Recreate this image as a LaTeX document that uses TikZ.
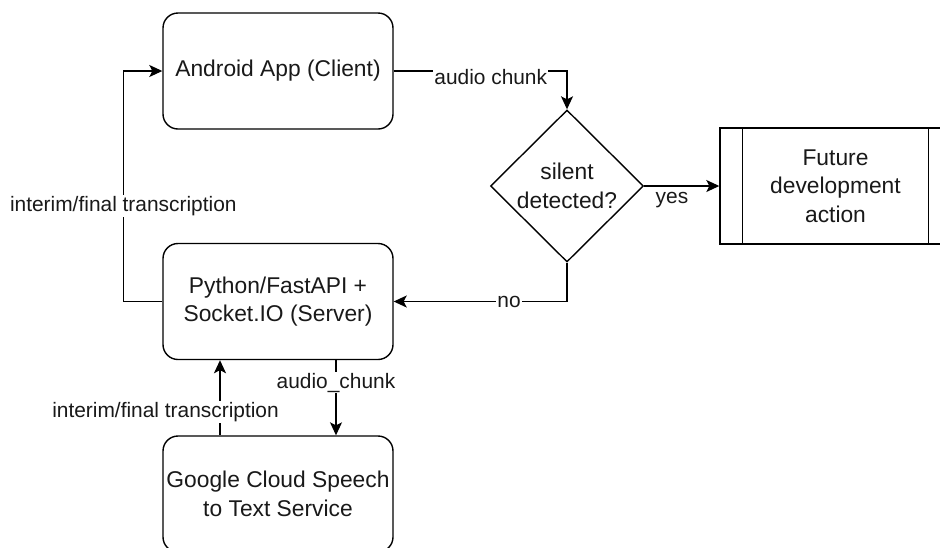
\documentclass[tikz,border=0pt]{standalone}
\usepackage{fontspec}
\setmainfont{Liberation Sans}
\usetikzlibrary{shapes.geometric,arrows.meta}
\begin{document}
\begin{tikzpicture}[x=1pt,y=-1pt,
  line width=1.4pt,
  boxtxt/.style={align=center,font=\fontsize{22.8}{28.5}\selectfont,text=black!90},
  box/.style={draw,rounded corners=15pt,minimum width=230pt,minimum height=116pt,boxtxt},
  dec/.style={draw,diamond,minimum width=153pt,minimum height=152pt,inner sep=0pt},
  proc/.style={draw,minimum width=231pt,minimum height=116pt,boxtxt},
  conn/.style={-{Stealth[length=13pt,width=12pt,inset=3pt]}},
  lbl/.style={font=\fontsize{20.9}{25}\selectfont,text=black!90,fill=white,inner sep=1pt},
  lblnf/.style={font=\fontsize{20.9}{25}\selectfont,text=black!90,inner sep=1pt}
]
\clip (0,0) rectangle (940,547);
\fill[white] (0,0) rectangle (940,547);
\node[box] (android) at (278,71) {Android App (Client)};
\node[box] (python) at (278,301.5) {Python/FastAPI +\\Socket.IO (Server)};
\node[box] (google) at (278,494) {Google Cloud Speech\\to Text Service};
\node[dec,label={[boxtxt]center:silent\\detected?}] (dec) at (567,186) {};
\node[proc] (future) at (835.5,186) {Future\\development\\action};
\draw ([xshift=23pt]future.north west) -- ([xshift=23pt]future.south west);
\draw ([xshift=-23pt]future.north east) -- ([xshift=-23pt]future.south east);

\draw[conn] (android.east) -| node[lbl,pos=0.28,yshift=-6pt] (l1) {audio chunk} (dec.north);
\draw[conn] (dec.east) -- node[lblnf,pos=0.37,yshift=-14pt] (l2) {yes} (future.west);
\draw[conn] (dec.south) |- node[lbl,pos=0.667] (l3) {no} (python.east);
\draw[conn] (python.west) -- ++(-39,0) |- node[lbl,pos=0.207] (l4) {interim/final transcription} (android.west);
\draw[conn] ([xshift=58pt]python.south) -- node[lbl,pos=0.3] (l5) {audio\_chunk} ([xshift=58pt]google.north);
\draw[conn] ([xshift=-58pt]google.north) -- node[lbl,pos=0.31,xshift=-54.5pt] (l6) {interim/final transcription} ([xshift=-58pt]python.south);
\end{tikzpicture}
\end{document}
